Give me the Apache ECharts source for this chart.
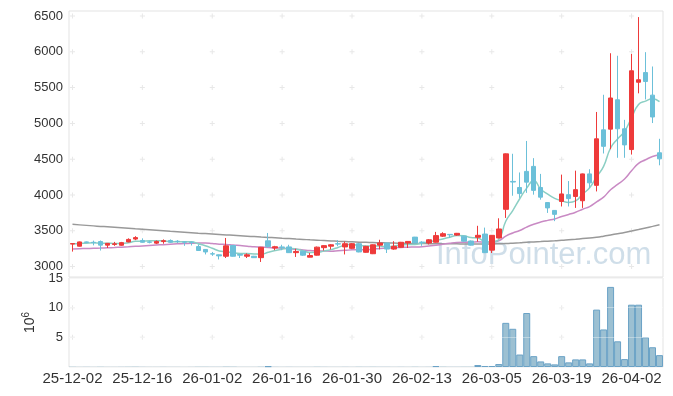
<!DOCTYPE html>
<html><head><meta charset="utf-8">
<script src="https://cdn.jsdelivr.net/npm/echarts@6/dist/echarts.min.js"></script>
<style>html,body{margin:0;padding:0;background:#fff}#c{width:673px;height:396px}</style>
</head><body><div id="c"></div>
<script>
const dates = ['25-12-02','25-12-03','25-12-04','25-12-05','25-12-08','25-12-09','25-12-10','25-12-11','25-12-12','25-12-15',
'25-12-16','25-12-17','25-12-18','25-12-19','25-12-22','25-12-23','25-12-24','25-12-26','25-12-29','25-12-30',
'26-01-02','26-01-05','26-01-06','26-01-07','26-01-08','26-01-09','26-01-12','26-01-13','26-01-14','26-01-15',
'26-01-16','26-01-19','26-01-20','26-01-21','26-01-22','26-01-23','26-01-26','26-01-27','26-01-28','26-01-29',
'26-01-30','26-02-02','26-02-03','26-02-04','26-02-05','26-02-06','26-02-09','26-02-10','26-02-11','26-02-12',
'26-02-13','26-02-19','26-02-20','26-02-23','26-02-24','26-02-25','26-02-26','26-02-27','26-03-03','26-03-04',
'26-03-05','26-03-06','26-03-09','26-03-10','26-03-11','26-03-12','26-03-13','26-03-16','26-03-17','26-03-18',
'26-03-19','26-03-20','26-03-23','26-03-24','26-03-25','26-03-26','26-03-27','26-03-30','26-03-31','26-04-01',
'26-04-02','26-04-03','26-04-06','26-04-07','26-04-08'];

const opens = [3315,3285,3345,3340,3350,3300,3310,3298,3345,3385,
3365,3345,3328,3350,3365,3355,3345,3342,3280,3240,
3180,3165,3145,3295,3170,3145,3145,3125,3360,3260,
3275,3275,3195,3215,3132,3160,3265,3285,3320,3275,
3255,3320,3200,3180,3300,3330,3245,3270,3330,3412,
3342,3330,3340,3425,3450,3440,3425,3358,3410,3455,
3230,3400,3800,4190,4105,4330,4400,4105,3895,3785,
3910,4005,3980,3920,4295,4135,4910,4920,5330,4925,
4635,5575,5710,5395,4590];

const closes = [3322,3345,3338,3335,3300,3325,3318,3335,3380,3405,
3340,3340,3352,3362,3340,3350,3342,3338,3225,3205,
3175,3150,3290,3145,3160,3165,3125,3270,3280,3278,
3265,3195,3212,3160,3155,3272,3293,3305,3315,3320,
3320,3205,3283,3305,3330,3245,3283,3340,3352,3330,
3338,3375,3433,3460,3444,3465,3355,3300,3437,3195,
3437,3526,4575,4181,4020,4180,4065,3970,3820,3730,
4015,3950,4075,4295,4170,4785,4680,5355,4925,4700,
5735,5610,5585,5090,4505];

const lows = [3210,3280,3330,3297,3225,3260,3290,3290,3340,3370,
3335,3325,3315,3320,3330,3330,3290,3295,3220,3170,
3150,3100,3120,3140,3120,3120,3120,3065,3265,3230,
3230,3190,3135,3150,3130,3155,3225,3240,3285,3170,
3245,3200,3195,3175,3240,3190,3235,3265,3260,3325,
3290,3310,3335,3414,3400,3430,3350,3295,3350,3190,
3190,3395,3680,3990,3960,4030,4005,3935,3750,3635,
3840,3840,3820,3820,4100,4050,4580,4640,4520,4520,
4565,5420,5335,5005,4415];

const highs = [3328,3350,3350,3363,3365,3330,3345,3345,3395,3425,
3395,3360,3365,3380,3380,3370,3350,3350,3310,3245,
3205,3170,3400,3300,3175,3185,3150,3275,3470,3290,
3305,3305,3250,3220,3190,3280,3300,3315,3370,3350,
3330,3330,3290,3310,3375,3335,3355,3345,3355,3415,
3355,3385,3485,3480,3455,3470,3430,3365,3570,3545,
3440,3675,4580,4576,4315,4755,4515,4295,3900,3790,
4285,4195,4340,4300,4360,5160,5400,5980,5945,5050,
5970,6485,5995,5795,4785];

const ma5 = [3318,3322,3328,3332,3328,3328,3323,3323,3332,3353,
3356,3360,3363,3360,3347,3349,3349,3346,3319,3292,
3257,3219,3209,3193,3184,3182,3177,3173,3200,3224,
3244,3258,3246,3222,3197,3199,3218,3237,3268,3301,
3311,3293,3289,3287,3289,3274,3289,3301,3310,3310,
3329,3347,3366,3387,3410,3435,3431,3405,3400,3350,
3345,3379,3634,3783,3948,4096,4204,4083,4011,3953,
3920,3897,3918,4013,4101,4255,4401,4657,4783,4889,
5079,5265,5311,5344,5305];

const ma20 = [3247,3250,3253,3256,3259,3263,3267,3272,3277,3283,
3289,3295,3301,3307,3313,3318,3322,3326,3329,3330,
3322,3313,3310,3301,3294,3286,3276,3273,3268,3261,
3258,3250,3243,3233,3224,3220,3218,3216,3221,3227,
3234,3237,3236,3244,3253,3257,3265,3268,3272,3274,
3278,3287,3298,3313,3327,3337,3340,3340,3346,3340,
3346,3362,3426,3470,3505,3552,3591,3622,3646,3666,
3700,3728,3760,3802,3839,3905,3971,4074,4148,4223,
4338,4442,4493,4538,4562];

const ma120 = [3590,3583,3576,3569,3562,3556,3549,3542,3535,3528,
3522,3515,3508,3501,3494,3488,3481,3474,3467,3461,
3455,3449,3443,3437,3431,3425,3419,3413,3408,3402,
3396,3391,3385,3380,3374,3369,3364,3359,3354,3350,
3346,3342,3339,3336,3333,3331,3329,3327,3325,3323,
3322,3321,3320,3319,3318,3318,3317,3317,3317,3317,
3317,3319,3322,3327,3333,3340,3345,3350,3356,3361,
3367,3375,3383,3392,3401,3410,3425,3443,3460,3477,
3497,3518,3540,3562,3585];

// volume in millions of shares
const volumes = [0.05,0.03,0.04,0.03,0.05,0.03,0.03,0.04,0.05,0.06,
0.04,0.03,0.03,0.04,0.03,0.03,0.02,0.03,0.05,0.05,
0.04,0.04,0.07,0.06,0.03,0.03,0.03,0.06,0.12,0.04,
0.03,0.04,0.03,0.03,0.03,0.05,0.04,0.03,0.03,0.04,
0.03,0.05,0.04,0.05,0.04,0.04,0.03,0.04,0.03,0.05,
0.03,0.04,0.15,0.06,0.04,0.04,0.05,0.05,0.33,0.17,
0.17,0.5,7.44,6.44,2.1,9.1,1.83,0.94,0.61,0.44,
1.83,0.78,1.28,1.28,0.61,9.67,6.33,13.5,4.33,1.33,
10.5,10.5,5.0,3.33,2.0];

const priceTicks = [3000,3500,4000,4500,5000,5500,6000,6500];
const volumeTicks = [5,10,15];

const FONT = '"Liberation Sans", Arial, sans-serif';
const labelIdx = dates.map((d, i) => i).filter(i => i % 10 === 0);
const crossPath = 'path://M2,0H3V2H5V3H3V5H2V3H0V2H2Z';
const priceCross = [];
labelIdx.forEach(i => priceTicks.forEach(v => priceCross.push([dates[i], v])));
const volCross = [];
labelIdx.forEach(i => volumeTicks.filter(v => v < 15).forEach(v => volCross.push([dates[i], v])));

const volumeData = volumes.map(v => v < 0.1
  ? {value: v, itemStyle: {borderWidth: 0}}
  : v);

const chart = echarts.init(document.getElementById('c'), null, {renderer: 'canvas'});
chart.setOption({
  animation: false,
  backgroundColor: '#ffffff',
  grid: [
    {left: 69, right: 10, top: 11, height: 266, show: true, borderColor: '#e3e3e3', borderWidth: 1},
    {left: 69, right: 10, top: 278, height: 89, show: true, borderColor: '#e3e3e3', borderWidth: 1}
  ],
  xAxis: [
    {type: 'category', gridIndex: 0, data: dates, boundaryGap: true,
     axisLine: {show: false}, axisTick: {show: false}, axisLabel: {show: false}, splitLine: {show: false}},
    {type: 'category', gridIndex: 1, data: dates, boundaryGap: true,
     axisLine: {show: false}, axisTick: {show: false}, splitLine: {show: false},
     axisLabel: {interval: 9, color: '#333', fontSize: 15, fontFamily: FONT, margin: 4}}
  ],
  yAxis: [
    {type: 'value', gridIndex: 0, min: 2855, max: 6570, scale: true,
     axisLine: {show: false}, axisTick: {show: false}, splitLine: {show: false},
     axisLabel: {customValues: priceTicks, color: '#333', fontSize: 13, fontFamily: FONT, margin: 6,
                 formatter: v => String(v)}},
    {type: 'value', gridIndex: 1, min: 0, max: 15, interval: 5, z: 5,
     axisLine: {show: false}, axisTick: {show: false},
     splitLine: {show: true, lineStyle: {color: 'rgba(255,255,255,0.35)', width: 1}},
     axisLabel: {showMinLabel: false, color: '#333', fontSize: 13, fontFamily: FONT, margin: 6,
                 formatter: v => String(v)},
     name: '{a|10}{b|6}', nameLocation: 'middle', nameGap: 28, nameRotate: 90,
     nameTextStyle: {color: '#333', rich: {
       a: {fontSize: 14, color: '#333', fontFamily: FONT, lineHeight: 18},
       b: {fontSize: 10, color: '#333', fontFamily: FONT, verticalAlign: 'top', lineHeight: 18}
     }}}
  ],
  graphic: [
    {type: 'text', left: 436, top: 240, z: 1, silent: true,
     style: {text: 'InfoPointer.com', font: '31px ' + FONT, fill: 'rgba(160,190,212,0.5)'}}
  ],
  series: [
    {type: 'scatter', xAxisIndex: 0, yAxisIndex: 0, data: priceCross, symbol: crossPath, symbolSize: 5,
     itemStyle: {color: '#e2e2e2'}, silent: true, z: 1},
    {type: 'scatter', xAxisIndex: 1, yAxisIndex: 1, data: volCross, symbol: crossPath, symbolSize: 5,
     itemStyle: {color: '#e2e2e2'}, silent: true, z: 1},
    {type: 'line', xAxisIndex: 0, yAxisIndex: 0, data: ma120, showSymbol: false, smooth: true, z: 2,
     lineStyle: {color: '#999999', width: 1.5}},
    {type: 'line', xAxisIndex: 0, yAxisIndex: 0, data: ma20, showSymbol: false, smooth: true, z: 2,
     lineStyle: {color: '#c98ac4', width: 1.5}},
    {type: 'line', xAxisIndex: 0, yAxisIndex: 0, data: ma5, showSymbol: false, smooth: true, z: 2,
     lineStyle: {color: '#8bcfc4', width: 1.5}},
    {type: 'candlestick', xAxisIndex: 0, yAxisIndex: 0, barWidth: 5, z: 3,
     data: dates.map((d, i) => [opens[i], closes[i], lows[i], highs[i]]),
     itemStyle: {color: '#ee3a3a', color0: '#6cc0d9', borderColor: '#ee3a3a', borderColor0: '#6cc0d9', borderWidth: 1}},
    {type: 'bar', xAxisIndex: 1, yAxisIndex: 1, data: volumeData, barCategoryGap: '0%', z: 2,
     itemStyle: {color: '#9cc0d2', borderColor: '#6aa2c6', borderWidth: 1}}
  ]
});
</script>
</body></html>
